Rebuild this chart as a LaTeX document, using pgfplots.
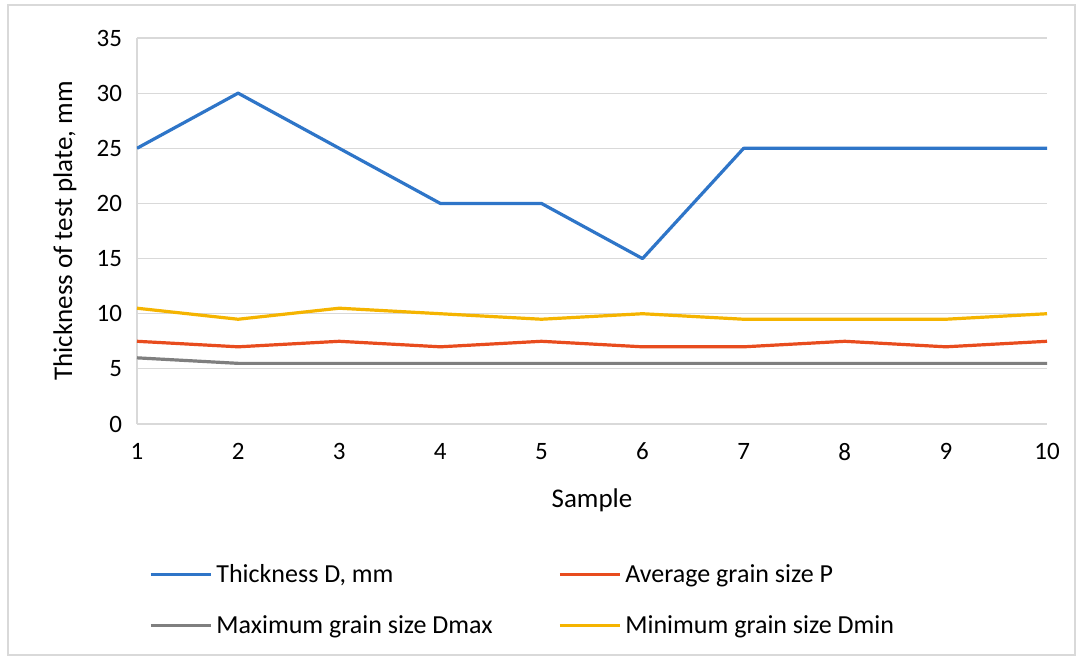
\documentclass[border=0pt]{standalone}
\usepackage{pgfplots}
\pgfplotsset{compat=1.18}
\usepackage{fontspec}
\setmainfont{Carlito}
\definecolor{cblue}{HTML}{2E75C8}
\definecolor{cred}{HTML}{E84C1E}
\definecolor{cgray}{HTML}{7F7F7F}
\definecolor{cgold}{HTML}{F5B400}
\definecolor{cgrid}{HTML}{D9D9D9}
\begin{document}
\begin{tikzpicture}
\fill[white] (-68.5pt,-118.5pt) rectangle (473pt,212pt);
\draw[cgrid, line width=0.8pt] (-64.5pt,-115.5pt) rectangle (469pt,209.5pt);
\begin{axis}[
  at={(0,0)}, anchor=origin,
  scale only axis, width=455pt, height=193pt,
  xmin=1, xmax=10, ymin=0, ymax=35,
  xtick={1,...,10}, ytick={0,5,...,35},
  major tick length=0pt,
  ymajorgrids, grid style={cgrid, line width=0.6pt},
  axis x line*=bottom, axis y line*=left,
  axis line style={cgrid, line width=0.6pt, -},
  /pgf/number format/assume math mode=true,
  tick label style={font=\fontsize{12.5}{14}\selectfont, text=black},
  xticklabel style={yshift=-6pt},
  yticklabel style={xshift=-4pt},
  xlabel={Sample}, ylabel={Thickness of test plate, mm},
  label style={font=\fontsize{13.5}{15}\selectfont, text=black},
  xlabel style={at={(axis description cs:0.5,0)}, anchor=center, yshift=-38pt},
  ylabel style={at={(axis description cs:0,0.5)}, anchor=center, yshift=36pt},
  legend columns=2,
  legend style={at={(axis description cs:0,0)}, anchor=north west, xshift=3pt, yshift=-66pt,
    draw=none, fill=none, font=\fontsize{13}{15}\selectfont, text=black,
    /tikz/every even column/.append style={column sep=4pt},
    row sep=11pt},
  legend cell align=left,
  legend image code/.code={\draw[#1, line width=1.5pt] (0pt,0pt) -- (30pt,0pt);},
  every axis plot/.append style={line width=1.6pt, line join=round},
]
\addplot[cblue] coordinates {(1,25)(2,30)(3,25)(4,20)(5,20)(6,15)(7,25)(8,25)(9,25)(10,25)};
\addlegendentry{\makebox[165pt][l]{Thickness D, mm}}
\addplot[cred] coordinates {(1,7.5)(2,7)(3,7.5)(4,7)(5,7.5)(6,7)(7,7)(8,7.5)(9,7)(10,7.5)};
\addlegendentry{Average grain size P}
\addplot[cgray] coordinates {(1,6)(2,5.5)(3,5.5)(4,5.5)(5,5.5)(6,5.5)(7,5.5)(8,5.5)(9,5.5)(10,5.5)};
\addlegendentry{\makebox[165pt][l]{Maximum grain size Dmax}}
\addplot[cgold] coordinates {(1,10.5)(2,9.5)(3,10.5)(4,10)(5,9.5)(6,10)(7,9.5)(8,9.5)(9,9.5)(10,10)};
\addlegendentry{Minimum grain size Dmin}
\end{axis}
\end{tikzpicture}
\end{document}
